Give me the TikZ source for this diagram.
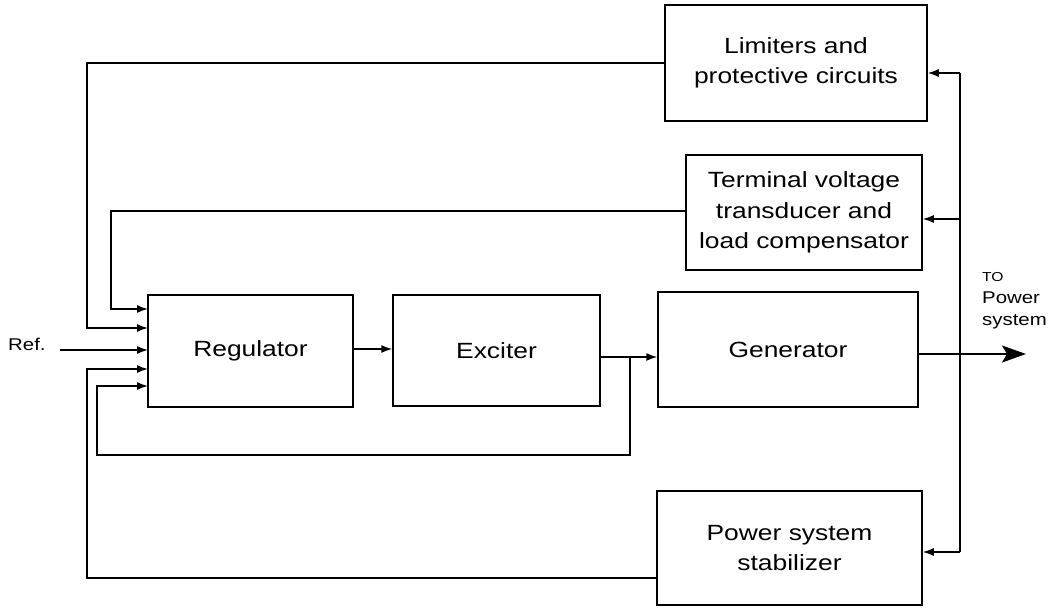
\documentclass[tikz,border=0pt]{standalone}
\usepackage{fontspec}
\setmainfont{Liberation Sans}[FakeStretch=1.2]
\usetikzlibrary{arrows.meta}
\begin{document}
\begin{tikzpicture}[x=1pt,y=-1pt,
  blk/.style={draw,line width=1.5pt,inner sep=0pt,align=center,font=\fontsize{22}{30.5}\selectfont},
  wire/.style={line width=1.5pt},
  arr/.style={wire,-{Latex[length=11pt,width=8pt]}},
  small/.style={font=\fontsize{17}{22}\selectfont,align=left,inner sep=0pt}]
\useasboundingbox (0,0) rectangle (1052,610);
\node[blk,minimum width=262pt,minimum height=116pt] (lim) at (796,63) {Limiters and\\protective circuits};
\node[blk,minimum width=236pt,minimum height=115pt] (term) at (804,212.5) {Terminal voltage\\transducer and\\load compensator};
\node[blk,minimum width=205pt,minimum height=112pt] (reg) at (250.5,351) {Regulator};
\node[blk,minimum width=207pt,minimum height=111pt] (exc) at (496.5,350.5) {Exciter};
\node[blk,minimum width=260pt,minimum height=115pt] (gen) at (788,349.5) {Generator};
\node[blk,minimum width=265pt,minimum height=114pt] (pss) at (789.5,548) {Power system\\stabilizer};
\node[small,anchor=base west] (ref) at (8,350) {Ref.};
\node[small,anchor=north west] (to) at (982,272) {{\fontsize{13}{22}\selectfont TO}\\Power\\system};
\coordinate (in1) at (148,309);
\coordinate (in2) at (148,328);
\coordinate (in3) at (148,350);
\coordinate (in4) at (148,369);
\coordinate (in5) at (148,386);
\coordinate (refS) at (60,350);
\coordinate (busTop) at (960,73);
\coordinate (busTerm) at (960,219);
\coordinate (busOut) at (960,354);
\coordinate (busBot) at (960,552);
\coordinate (outEnd) at (1026,354);
\coordinate (pssOut) at (657,578);
\coordinate (junc) at (630,357);
\draw[wire] (busTop) -- (busBot);
\draw[arr] (busTop) -- (lim.east |- busTop);
\draw[arr] (busTerm) -- (term.east |- busTerm);
\draw[arr] (busBot) -- (pss.east |- busBot);
\draw[wire,-{Stealth[length=24pt,width=17pt,inset=5pt]}] (gen.east |- busOut) -- (outEnd);
\draw[arr] (lim.west) -| (87,328) -- (in2);
\draw[arr] (term.west |- 0,211) -| (111,309) -- (in1);
\draw[arr] (refS) -- (in3);
\draw[arr] (pssOut) -| (87,369) -- (in4);
\draw[arr] (junc) -- (630,455) -| (97,386) -- (in5);
\draw[arr] (reg.east |- 0,349) -- (exc.west |- 0,349);
\draw[arr] (exc.east |- junc) -- (gen.west |- junc);
\end{tikzpicture}
\end{document}
